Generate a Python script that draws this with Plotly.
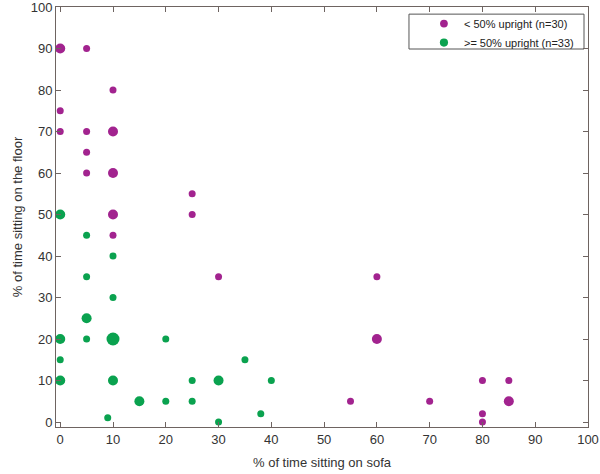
import plotly.graph_objects as go

# < 50% upright (n=30)
low_x = [0, 5, 10, 0, 0, 5, 10, 5, 5, 10, 25, 10, 25, 10, 30, 60, 60, 55, 70, 80, 85, 80, 80, 85]
low_y = [90, 90, 80, 75, 70, 70, 70, 65, 60, 60, 55, 50, 50, 45, 35, 35, 20, 5, 5, 10, 10, 2, 0, 5]
low_n = [2, 1, 1, 1, 1, 1, 2, 1, 1, 2, 1, 2, 1, 1, 1, 1, 2, 1, 1, 1, 1, 1, 1, 2]

# >= 50% upright (n=33)
high_x = [0, 5, 10, 5, 10, 5, 0, 5, 10, 20, 0, 0, 10, 25, 30, 40, 35, 15, 20, 25, 9, 30, 38]
high_y = [50, 45, 40, 35, 30, 25, 20, 20, 20, 20, 15, 10, 10, 10, 10, 10, 15, 5, 5, 5, 1, 0, 2]
high_n = [2, 1, 1, 1, 1, 2, 2, 1, 3, 1, 1, 2, 2, 1, 2, 1, 1, 2, 1, 1, 1, 1, 1]

x_ticks = [0, 10, 20, 30, 40, 50, 60, 70, 80, 90, 100]
y_ticks = [0, 10, 20, 30, 40, 50, 60, 70, 80, 90, 100]

PURPLE = "#a2238f"
GREEN = "#0aa24f"
LINE = "#6e6461"
FONT = "Liberation Sans, Arial, sans-serif"

def sizes(ns):
    return [4 + 3 * n for n in ns]

fig = go.Figure()
fig.add_trace(go.Scatter(
    x=low_x, y=low_y, mode="markers", name="< 50% upright (n=30)",
    marker=dict(color=PURPLE, size=sizes(low_n), opacity=1, line=dict(width=0)),
))
fig.add_trace(go.Scatter(
    x=high_x, y=high_y, mode="markers", name=">= 50% upright (n=33)",
    marker=dict(color=GREEN, size=sizes(high_n), opacity=1, line=dict(width=0)),
))

axis_common = dict(
    showgrid=False, zeroline=False, showline=True, linecolor=LINE, linewidth=1,
    mirror="ticks", ticks="inside", ticklen=5, tickcolor=LINE, tickwidth=1,
    automargin=False, ticklabeloverflow="allow",
    tickfont=dict(family=FONT, size=13, color="#333333"),
)

fig.update_layout(
    width=600, height=474,
    margin=dict(l=56, r=12, t=7, b=47),
    paper_bgcolor="white", plot_bgcolor="white",
    font=dict(family=FONT, size=13, color="#333333"),
    xaxis=dict(range=[-0.8, 100], tickvals=x_ticks, **axis_common),
    yaxis=dict(range=[-1.2, 100], tickvals=y_ticks, **axis_common),
    legend=dict(
        x=0.983, y=0.995, xanchor="right", yanchor="top",
        borderwidth=0, bgcolor="rgba(0,0,0,0)",
        font=dict(family=FONT, size=11, color="#222222"),
        tracegroupgap=0,
    ),
    shapes=[
        dict(type="rect", xref="paper", yref="paper",
             x0=0.6635, x1=0.9925, y0=0.9, y1=0.983,
             line=dict(color="#555555", width=1), fillcolor="white", layer="below"),
    ],
    annotations=[
        dict(text="% of time sitting on sofa", xref="paper", yref="paper",
             x=0.5, y=-0.085, xanchor="center", yanchor="middle", showarrow=False,
             font=dict(family=FONT, size=13, color="#333333")),
        dict(text="% of time sitting on the floor", xref="paper", yref="paper",
             x=-0.073, y=0.5, xanchor="center", yanchor="middle", showarrow=False,
             textangle=-90, font=dict(family=FONT, size=13, color="#333333")),
    ],
    showlegend=True,
)

fig.write_html("out.html", config={"displayModeBar": False},
               post_script="document.body.style.margin='0';")
